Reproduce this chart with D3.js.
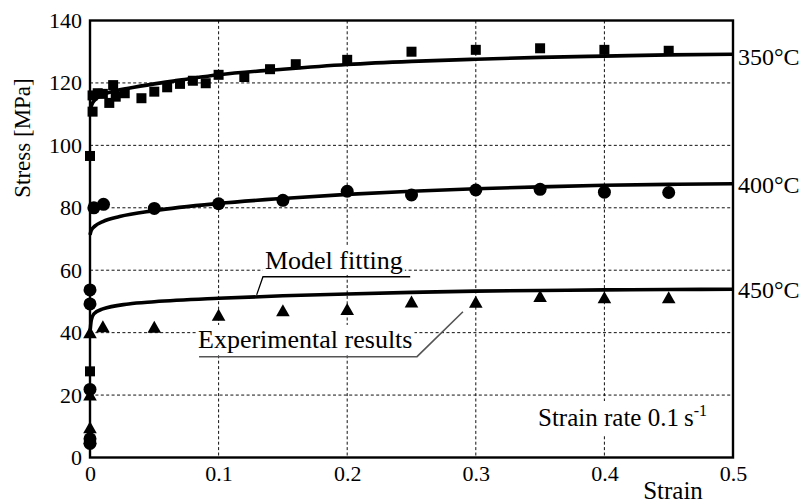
<!DOCTYPE html>
<html>
<head>
<meta charset="utf-8">
<script src="https://cdn.jsdelivr.net/npm/d3@7"></script>
</head>
<body style="margin:0;background:#fff">
<svg id="chart" width="803" height="504" style="display:block"></svg>
<script>
// ---- data ----
const strainTicks = [0, 0.1, 0.2, 0.3, 0.4, 0.5];
const stressTicks = [0, 20, 40, 60, 80, 100, 120, 140];
const tempLabels = ["350°C", "400°C", "450°C"];
const tempLabelStress = [128.2, 87.2, 53.5];

const exp350 = [[0,27.6],[0,96.6],[0.002,110.8],[0.002,116],[0.006,116.7],[0.01,116.5],[0.015,113.6],[0.018,119.3],[0.02,115.6],[0.027,116.7],[0.04,115.1],[0.05,117.2],[0.06,118.6],[0.07,119.7],[0.08,120.7],[0.09,119.9],[0.1,122.6],[0.12,121.9],[0.14,124.4],[0.16,126],[0.2,127.4],[0.25,130],[0.3,130.6],[0.35,131.1],[0.4,130.6],[0.45,130.3]];
const exp400 = [[0,4.5],[0,6],[0,21.8],[0,49.2],[0,53.7],[0.003,80],[0.0105,81.1],[0.05,79.8],[0.1,81.3],[0.15,82.4],[0.2,85.3],[0.25,84.1],[0.3,85.7],[0.35,85.9],[0.4,85],[0.45,84.9]];
const exp450 = [[0,6],[0,9.5],[0,20],[0,40],[0.01,41.9],[0.05,41.7],[0.1,45.6],[0.15,47],[0.2,47.4],[0.25,49.8],[0.3,49.7],[0.35,51.6],[0.4,51.2],[0.45,51.2]];

const fit350 = [[0,111.5],[0.002,113.6],[0.005,115],[0.01,116.3],[0.02,117.5],[0.03,118.3],[0.05,119.7],[0.075,121.2],[0.1,122.6],[0.15,124.4],[0.2,125.9],[0.25,126.9],[0.3,127.6],[0.35,128.2],[0.4,128.6],[0.45,129],[0.5,129.2]];
const fit400 = [[0,71.3],[0.001,72.8],[0.004,74.2],[0.01,75.6],[0.023,77.2],[0.05,79.1],[0.1,81.4],[0.15,83],[0.2,84.3],[0.25,85.3],[0.3,86.1],[0.35,86.7],[0.4,87.2],[0.45,87.5],[0.5,87.7]];
const fit450 = [[0,40],[0.001,44],[0.003,46],[0.01,47.6],[0.03,49.2],[0.05,49.9],[0.1,51],[0.15,51.8],[0.2,52.4],[0.25,52.9],[0.3,53.3],[0.35,53.5],[0.4,53.7],[0.45,53.8],[0.5,53.9]];

// ---- layout ----
const FONT = '"Liberation Serif", "Times New Roman", serif';
const svg = d3.select("#chart");
const pLeft = 90, pRight = 733, pTop = 20.5, pBottom = 457.5;
const x = d3.scaleLinear().domain([0, 0.5]).range([pLeft, pRight]);
const y = d3.scaleLinear().domain([0, 140]).range([pBottom, pTop]);

function T(sel, size) { return sel.style("font-family", FONT).style("font-size", size + "px").attr("fill", "#000"); }

// grid
const grid = svg.append("g").attr("stroke", "#111").attr("stroke-width", 1).attr("stroke-dasharray", "3,2.4");
grid.selectAll("line.v").data(strainTicks.filter(d => d > 0 && d < 0.5)).join("line").attr("class", "v")
  .attr("x1", d => x(d)).attr("x2", d => x(d)).attr("y1", pTop).attr("y2", pBottom);
grid.selectAll("line.h").data(stressTicks.filter(d => d > 0 && d < 140)).join("line").attr("class", "h")
  .attr("y1", d => y(d)).attr("y2", d => y(d)).attr("x1", pLeft).attr("x2", pRight);

// axes (labels only)
const xAxis = d3.axisBottom(x).tickValues(strainTicks).tickSize(0).tickPadding(8)
  .tickFormat(d => d === 0 ? "0" : d3.format(".1f")(d));
const gx = svg.append("g").attr("transform", `translate(0,${pBottom})`).call(xAxis);
gx.select(".domain").remove();
T(gx.selectAll("text"), 22).attr("dy", "0.72em");

const yAxis = d3.axisLeft(y).tickValues(stressTicks).tickSize(0).tickPadding(8);
const gy = svg.append("g").attr("transform", `translate(${pLeft},0)`).call(yAxis);
gy.select(".domain").remove();
T(gy.selectAll("text"), 22);

// annotation helper with white background
function boxedText(tx, ty, str, size, padX, padY) {
  const g = svg.append("g");
  const r = g.append("rect").attr("fill", "#fff");
  const t = T(g.append("text").attr("x", tx).attr("y", ty), size).text(str);
  const b = t.node().getBBox();
  r.attr("x", b.x - padX).attr("y", b.y - padY).attr("width", b.width + 2 * padX).attr("height", b.height + 2 * padY);
  return t;
}

// Model fitting
boxedText(x(0.136), y(60.4), "Model fitting", 26, 2, 0);
svg.append("polyline").attr("fill", "none").attr("stroke", "#000").attr("stroke-width", 1.3)
  .attr("points", [[x(0.1296), y(52.1)], [x(0.1345), y(57.9)], [x(0.249), y(57.9)]].map(p => p.join(",")).join(" "));

// Experimental results
boxedText(x(0.084), y(35.1), "Experimental results", 26, 2, 0);
svg.append("polyline").attr("fill", "none").attr("stroke", "#555").attr("stroke-width", 1.6)
  .attr("points", [[x(0.0848), y(32.3)], [x(0.2543), y(32.3)], [x(0.29), y(46.7)]].map(p => p.join(",")).join(" "));

// Strain rate label
{
  const g = svg.append("g");
  const r = g.append("rect").attr("fill", "#fff");
  const t = T(g.append("text").attr("x", 538).attr("y", 426), 25);
  t.append("tspan").text("Strain rate 0.1\u2009s");
  t.append("tspan").style("font-size", "16px").attr("dy", -10).text("-1");
  const b = t.node().getBBox();
  r.attr("x", b.x - 4).attr("y", b.y - 1).attr("width", b.width + 8).attr("height", b.height + 4);
}

// fitted curves
const line = d3.line().x(d => x(d[0])).y(d => y(d[1])).curve(d3.curveMonotoneX);
svg.append("g").selectAll("path").data([fit350, fit400, fit450]).join("path")
  .attr("d", line).attr("fill", "none").attr("stroke", "#000").attr("stroke-width", 3.6)
  .attr("stroke-linecap", "butt");

// markers
svg.append("g").selectAll("rect").data(exp350).join("rect")
  .attr("x", d => x(d[0]) - 5).attr("y", d => y(d[1]) - 5).attr("width", 10).attr("height", 10).attr("fill", "#000");
svg.append("g").selectAll("circle").data(exp400).join("circle")
  .attr("cx", d => x(d[0])).attr("cy", d => y(d[1])).attr("r", 6.5).attr("fill", "#000");
svg.append("g").selectAll("path").data(exp450).join("path")
  .attr("transform", d => `translate(${x(d[0])},${y(d[1])})`)
  .attr("d", "M0,-6.5L6.8,5.5L-6.8,5.5Z").attr("fill", "#000");

// frame
svg.append("rect").attr("x", pLeft).attr("y", pTop).attr("width", pRight - pLeft).attr("height", pBottom - pTop)
  .attr("fill", "none").attr("stroke", "#000").attr("stroke-width", 2.4);

// temperature labels
T(svg.append("g").selectAll("text").data(tempLabels).join("text")
  .attr("x", pRight + 5).attr("y", (d, i) => y(tempLabelStress[i])).attr("dy", "0.33em"), 24)
  .text(d => d);

// axis titles
T(svg.append("text").attr("x", 673).attr("y", 499).attr("text-anchor", "middle"), 25).text("Strain");
T(svg.append("text").attr("transform", "translate(30,138) rotate(-90)").attr("text-anchor", "middle"), 23)
  .text("Stress [MPa]");
</script>
</body>
</html>
